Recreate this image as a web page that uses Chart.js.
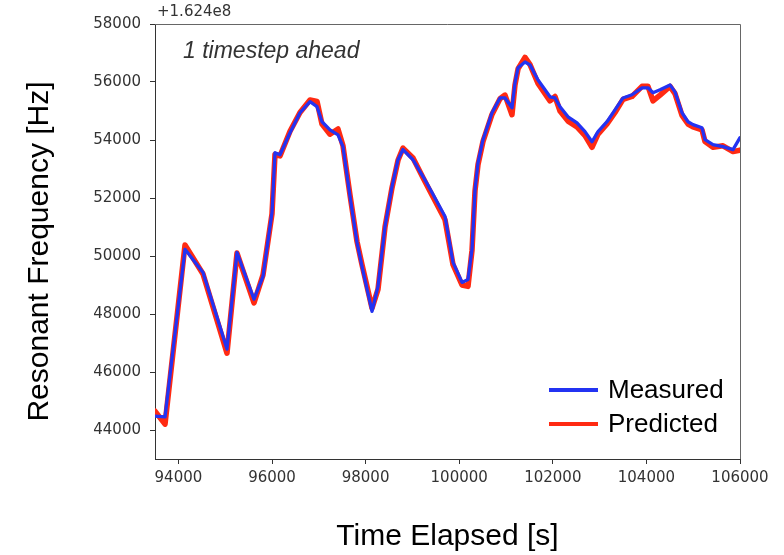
<!DOCTYPE html>
<html>
<head>
<meta charset="utf-8">
<script src="https://cdn.jsdelivr.net/npm/chart.js@4"></script>
<style>
  html, body { margin: 0; padding: 0; background: #fff; }
  #wrap { width: 784px; height: 555px; position: relative; }
</style>
</head>
<body>
<div id="wrap"><canvas id="c" width="784" height="555"></canvas></div>
<script>
// Frequencies are stored as offsets from 1.624e8 Hz, as printed on the axis.
const offsetLabel = '+1.624e8';
const annotationText = '1 timestep ahead';
const xAxisTitle = 'Time Elapsed [s]';
const yAxisTitle = 'Resonant Frequency [Hz]';
const seriesNames = ['Measured', 'Predicted'];

const timeSec = [
  93500, 93714, 94141, 94526, 95038, 95252, 95615, 95808, 96000, 96064,
  96171, 96385, 96598, 96812, 96962, 97068, 97239, 97410, 97517, 97667,
  97816, 97923, 98137, 98265, 98415, 98564, 98692, 98799, 99013, 99227,
  99419, 99697, 99868, 100060,
  100188, 100274, 100338, 100402, 100509, 100701, 100872, 100979, 101128, 101192,
  101257, 101406, 101513, 101684, 101940, 102047, 102154,
  102325, 102517, 102688, 102838, 102966, 103158, 103329, 103500, 103692, 103906,
  104034, 104141, 104291, 104505, 104611, 104761, 104889, 104996, 105188, 105252,
  105423, 105637, 105851, 106000
];

const measuredHz = [
  44480, 44450, 50230, 49430, 46790, 50120, 48510, 49300, 51500, 53560,
  53490, 54250, 54940, 55320, 55150, 54630, 54350, 54180, 53770, 52050,
  50470, 49640, 48090, 48950, 51020, 52390, 53320, 53670, 53320, 52740,
  52190, 51360, 49780, 49090,
  49190, 50230, 52290, 53220, 54010, 54940, 55450, 55450, 55110, 55970,
  56490, 56690, 56590, 56070, 55490, 55450, 55150,
  54800, 54590, 54290, 53940, 54290, 54630, 55040, 55450, 55560, 55800,
  55800, 55630, 55730, 55900, 55660, 54940, 54630, 54530, 54420, 54010,
  53840, 53770, 53670, 54080
];

const predictedHz = [
  44650, 44200, 50380, 49380, 46650, 50100, 48380, 49350, 51450, 53500,
  53450, 54300, 54950, 55380, 55330, 54550, 54200, 54380, 53800, 52100,
  50500, 49700, 48200, 48850, 51000, 52350, 53300, 53720, 53380, 52700,
  52100, 51250, 49700, 49000,
  48950, 50200, 52250, 53150, 53950, 54880, 55420, 55550, 54870, 55900,
  56450, 56850, 56600, 55950, 55350, 55500, 55000,
  54650, 54450, 54150, 53750, 54200, 54550, 54950, 55400, 55500, 55850,
  55850, 55350, 55550, 55850, 55600, 54850, 54550, 54450, 54350, 53950,
  53750, 53800, 53600, 53650
];

const xTicks = [94000, 96000, 98000, 100000, 102000, 104000, 106000];
const yTicks = [44000, 46000, 48000, 50000, 52000, 54000, 56000, 58000];

const toPoints = (xs, ys) => xs.map((x, i) => ({ x: x, y: ys[i] }));

const TICK_FONT = { family: 'DejaVu Sans', size: 15 };
const TEXT_GREY = '#333';

// Top/right frame, titles, annotation and an in-axes legend.
const decorations = {
  id: 'decorations',
  beforeDatasetsDraw(chart) {
    const { ctx, chartArea: a } = chart;
    ctx.save();
    ctx.strokeStyle = '#666';
    ctx.lineWidth = 1;
    ctx.beginPath();
    ctx.moveTo(a.left, a.top + 0.5);
    ctx.lineTo(a.right + 0.5, a.top + 0.5);
    ctx.lineTo(a.right + 0.5, a.bottom);
    ctx.stroke();
    ctx.restore();
  },
  afterDraw(chart) {
    const { ctx, chartArea: a } = chart;
    ctx.save();
    ctx.fillStyle = TEXT_GREY;

    // offset text above the y axis
    ctx.font = '15px "DejaVu Sans"';
    ctx.textAlign = 'left';
    ctx.textBaseline = 'bottom';
    ctx.fillText(offsetLabel, a.left + 2, a.top - 4);

    // annotation
    ctx.font = 'italic 23px "Liberation Sans"';
    ctx.textBaseline = 'alphabetic';
    ctx.fillText(annotationText, a.left + 28, a.top + 34);

    // axis titles
    ctx.fillStyle = '#000';
    ctx.font = '30px "Liberation Sans"';
    ctx.textAlign = 'center';
    ctx.textBaseline = 'middle';
    ctx.fillText(xAxisTitle, (a.left + a.right) / 2, 537);
    ctx.save();
    ctx.translate(40, (a.top + a.bottom) / 2 + 10);
    ctx.rotate(-Math.PI / 2);
    ctx.fillText(yAxisTitle, 0, 0);
    ctx.restore();

    // legend in the lower right of the axes
    ctx.font = '26px "Liberation Sans"';
    ctx.textAlign = 'left';
    ctx.textBaseline = 'middle';
    chart.data.datasets.forEach((ds, i) => {
      const yy = a.bottom - 69 + i * 34;
      ctx.strokeStyle = ds.borderColor;
      ctx.lineWidth = 4;
      ctx.beginPath();
      ctx.moveTo(a.right - 191, yy);
      ctx.lineTo(a.right - 142, yy);
      ctx.stroke();
      ctx.fillStyle = '#000';
      ctx.fillText(ds.label, a.right - 132, yy + 1);
    });
    ctx.restore();
  }
};

new Chart(document.getElementById('c'), {
  type: 'line',
  data: {
    datasets: [
      {
        label: seriesNames[0],
        data: toPoints(timeSec, measuredHz),
        borderColor: '#2333f2',
        borderWidth: 3.3,
        pointRadius: 0,
        tension: 0,
        borderJoinStyle: 'round',
        borderCapStyle: 'round'
      },
      {
        label: seriesNames[1],
        data: toPoints(timeSec, predictedHz),
        borderColor: '#ff2a12',
        borderWidth: 5.5,
        pointRadius: 0,
        tension: 0,
        borderJoinStyle: 'round',
        borderCapStyle: 'round'
      }
    ]
  },
  options: {
    responsive: false,
    animation: false,
    layout: { padding: { top: 24, right: 44, left: 0, bottom: 0 } },
    plugins: {
      legend: { display: false },
      title: { display: false },
      tooltip: { enabled: false }
    },
    scales: {
      x: {
        type: 'linear',
        min: 93500,
        max: 106000,
        afterBuildTicks: s => { s.ticks = xTicks.map(v => ({ value: v })); },
        afterFit: s => { s.height = 96; },
        ticks: {
          font: TICK_FONT,
          color: TEXT_GREY,
          padding: 5,
          maxRotation: 0,
          autoSkip: false,
          callback: v => String(v)
        },
        grid: {
          drawOnChartArea: false,
          drawTicks: true,
          tickLength: 5,
          tickColor: '#333',
          tickWidth: 1
        },
        border: { display: true, color: '#333', width: 1 }
      },
      y: {
        type: 'linear',
        min: 43000,
        max: 58000,
        afterBuildTicks: s => { s.ticks = yTicks.map(v => ({ value: v })); },
        afterFit: s => { s.width = 155; },
        ticks: {
          font: TICK_FONT,
          color: TEXT_GREY,
          padding: 9,
          autoSkip: false,
          callback: v => String(v)
        },
        grid: {
          drawOnChartArea: false,
          drawTicks: true,
          tickLength: 5,
          tickColor: '#333',
          tickWidth: 1
        },
        border: { display: true, color: '#333', width: 1 }
      }
    }
  },
  plugins: [decorations]
});
</script>
</body>
</html>
